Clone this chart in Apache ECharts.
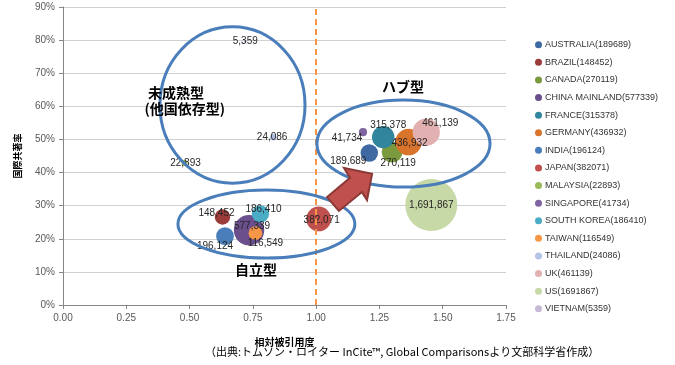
<!DOCTYPE html>
<html><head><meta charset="utf-8">
<script src="https://cdn.jsdelivr.net/npm/echarts@6/dist/echarts.min.js"></script>
<style>html,body{margin:0;padding:0;background:#fff}#c{width:675px;height:365px}</style>
</head><body><div id="c"></div>
<script>
const countries = ['AUSTRALIA','BRAZIL','CANADA','CHINA MAINLAND','FRANCE','GERMANY','INDIA','JAPAN','MALAYSIA','SINGAPORE','SOUTH KOREA','TAIWAN','THAILAND','UK','US','VIETNAM'];
const papers = [189689,148452,270119,577339,315378,436932,196124,382071,22893,41734,186410,116549,24086,461139,1691867,5359];
const citationImpact = [1.21,0.63,1.30,0.735,1.265,1.365,0.64,1.01,0.48,1.185,0.78,0.76,0.83,1.435,1.455,0.72];
const coauthorRate = [45.9,26.6,46.2,22.6,50.7,49.2,20.8,26.0,42.9,52.2,27.5,21.7,50.7,52.2,30.2,79.7];
const xTicks = [0,0.25,0.5,0.75,1,1.25,1.5,1.75];
const yTicks = [0,10,20,30,40,50,60,70,80,90];

// styles (not data)
const colors = ['#3F69A3','#9B3B3A','#7A9A3D','#6A4F8C','#31859C','#D8742B','#4A7EBB','#C0504D','#9BBB59','#8064A2','#4BACC6','#F79646','#B3C3E6','#E2B0B0','#C8D9A8','#C5B9D6'];
const labelOffsets = {
  'AUSTRALIA':[-21,8],'BRAZIL':[-6,-4],'CANADA':[6,11],'CHINA MAINLAND':[3,-4],'FRANCE':[5,-12],
  'GERMANY':[1,1],'INDIA':[-10,10],'JAPAN':[3,1],'MALAYSIA':[1,0],'SINGAPORE':[-16,6],
  'SOUTH KOREA':[3,-5],'TAIWAN':[10,10],'THAILAND':[-1,0],'UK':[14,-9],'US':[0,0],'VIETNAM':[0,0]
};

const chart = echarts.init(document.getElementById('c'), null, {renderer:'canvas'});
const series = countries.map((c,i)=>({
  name: c + '(' + papers[i] + ')',
  type: 'scatter',
  data: [[citationImpact[i], coauthorRate[i], papers[i]]],
  symbolSize: v => Math.sqrt(v[2]) * 0.04,
  itemStyle: {color: colors[i], opacity: 1},
  label: {
    show: true, position: 'inside', offset: labelOffsets[c],
    formatter: p => p.value[2].toLocaleString('en-US'),
    color: '#262626', fontSize: 10, fontFamily: 'Liberation Sans'
  },
  emphasis: {disabled: true},
  z: 3
}));
series[0].markLine = {
  silent: true, symbol: 'none', label: {show: false},
  lineStyle: {color: '#F79646', type: [6,4], width: 2},
  data: [{xAxis: 1}]
};

chart.setOption({
  animation: false,
  grid: {left: 63, right: 169, top: 7, bottom: 60},
  xAxis: {
    type: 'value', min: xTicks[0], max: xTicks[xTicks.length-1], interval: 0.25,
    name: '相対被引用度', nameLocation: 'middle', nameGap: 32,
    nameTextStyle: {fontFamily: 'Noto Sans CJK JP', fontWeight: 'bold', fontSize: 10, color: '#000'},
    axisLine: {lineStyle: {color: '#868686'}},
    axisTick: {show: true, length: 4, lineStyle: {color: '#868686'}},
    axisLabel: {formatter: v => v.toFixed(2), color: '#595959', fontSize: 10, fontFamily: 'Liberation Sans', margin: 8},
    splitLine: {show: false}
  },
  yAxis: {
    type: 'value', min: yTicks[0], max: yTicks[yTicks.length-1], interval: 10,
    name: '国際共著率', nameLocation: 'middle', nameGap: 41, nameRotate: 90,
    nameTextStyle: {fontFamily: 'Noto Sans CJK JP', fontWeight: 'bold', fontSize: 9, color: '#000'},
    axisLine: {show: true, lineStyle: {color: '#868686'}},
    axisTick: {show: true, length: 4, lineStyle: {color: '#868686'}},
    axisLabel: {formatter: '{value}%', color: '#595959', fontSize: 10, fontFamily: 'Liberation Sans', margin: 8},
    splitLine: {lineStyle: {color: '#D0D0D0'}}
  },
  legend: {
    orient: 'vertical', left: 530, top: 34,
    icon: 'circle', itemWidth: 7, itemHeight: 7, itemGap: 6.1,
    textStyle: {fontSize: 9, color: '#333333', fontFamily: 'Liberation Sans', lineHeight: 11.5, padding: [0,0,0,-2]},
    selectedMode: false
  },
  series: series
});

// annotations, defined in data coordinates
const P = (x,y) => chart.convertToPixel({gridIndex:0},[x,y]);
function ellipse(x1,y1,x2,y2){
  const a = P(x1,y1), b = P(x2,y2);
  return {type:'ellipse', z: 10, silent: true,
    shape:{cx:(a[0]+b[0])/2, cy:(a[1]+b[1])/2, rx:Math.abs(b[0]-a[0])/2, ry:Math.abs(b[1]-a[1])/2},
    style:{fill:null, stroke:'#4A7EBB', lineWidth:3}};
}
function txt(x,y,s,align,size){
  const p = P(x,y);
  return {type:'text', z: 11, silent:true, x:p[0], y:p[1],
    style:{text:s, fill:'#000', font:'bold '+size+'px "Noto Sans CJK JP"', textAlign:align, textVerticalAlign:'middle'}};
}
const arrowPts = [[1.221,39.6],[1.201,31.7],[1.181,34.1],[1.090,28.4],[1.043,32.6],[1.134,38.4],[1.110,41.4]].map(q=>P(q[0],q[1]));
chart.setOption({graphic: [
  ellipse(0.383,84.0,0.956,36.8),
  ellipse(0.454,34.7,1.153,14.2),
  ellipse(1.003,61.9,1.687,35.6),
  {type:'polygon', z: 12, silent:true, shape:{points: arrowPts},
    style:{fill:'#C0504D', stroke:'#8C3836', lineWidth:2}},
  txt(0.336,64.0,'未成熟型','left',14),
  txt(0.322,59.2,'(他国依存型)','left',14),
  txt(1.343,65.8,'ハブ型','center',14),
  txt(0.762,10.6,'自立型','center',14),
  {type:'text', z: 11, silent:true, left: 205, top: 346,
    style:{text:'（出典:トムソン・ロイター InCite™, Global Comparisonsより文部科学省作成）', fill:'#000', font:'11px "Noto Sans CJK JP"'}}
]});
</script></body></html>
